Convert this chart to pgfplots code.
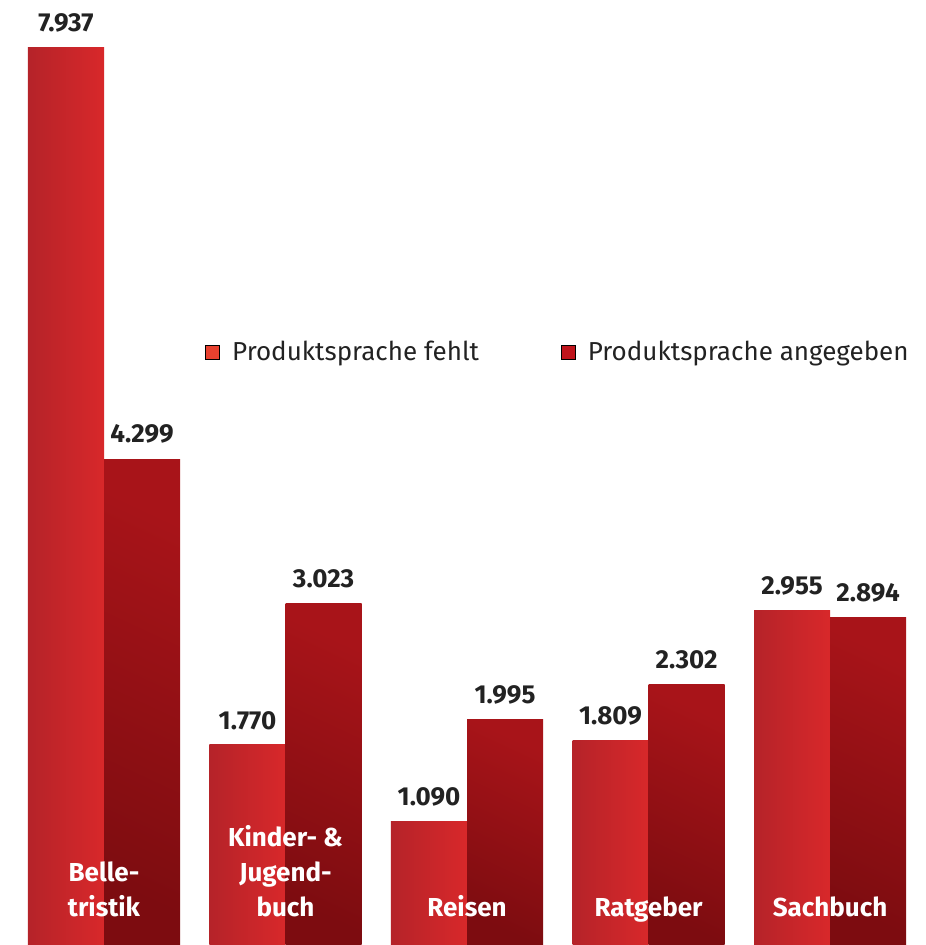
\documentclass[border=0pt]{standalone}
\usepackage{fontspec}
\setmainfont{Fira Sans}
\usepackage{pgfplots}
\pgfplotsset{compat=1.18}

\definecolor{legA}{HTML}{E8412F}
\definecolor{legB}{HTML}{C0141C}
\definecolor{barAl}{HTML}{B52329}
\definecolor{barAr}{HTML}{D8282A}
\definecolor{barBt}{HTML}{A81419}
\definecolor{barBb}{HTML}{7D0C10}
\definecolor{txt}{HTML}{222222}

\pgfplotsset{
    fehlt/.style={bar shift=-0.2095, draw=none, left color=barAl, right color=barAr, forget plot},
    angeg/.style={bar shift=0.2095, draw=none, top color=barBt, bottom color=barBb,
        shading angle=-25, forget plot},
}

\begin{document}
\begin{tikzpicture}
\begin{axis}[
    scale only axis,
    width=462.5pt,
    height=472.5pt,
    xmin=-0.573, xmax=4.523,
    ymin=0, ymax=8360,
    hide axis,
    clip=false,
    ybar,
    bar width=0.419,
    nodes near coords,
    /pgf/number format/assume math mode=true,
    /pgf/number format/1000 sep={.},
    every node near coord/.append style={font=\bfseries\fontsize{13}{15}\selectfont,
        text=txt, inner sep=0pt, yshift=7.5pt},
    legend columns=2,
    legend image code/.code={\fill[#1] (0pt,-3.5pt) rectangle (7pt,3.5pt);},
    legend style={draw=none, fill=none, inner sep=0pt,
        at={(rel axis cs:0.2216,0.627)}, anchor=west,
        font=\fontsize{13}{15}\selectfont, text=txt,
        nodes={inner sep=0pt},
        /tikz/every odd column/.append style={column sep=6pt},
        /tikz/every even column/.append style={column sep=41pt}},
]
\addlegendimage{fill=legA}
\addlegendentry{Produktsprache fehlt}
\addlegendimage{fill=legB}
\addlegendentry{Produktsprache angegeben}

% Produktsprache fehlt
\addplot[fehlt] coordinates {(0,7937)};
\addplot[fehlt] coordinates {(1,1770)};
\addplot[fehlt] coordinates {(2,1090)};
\addplot[fehlt] coordinates {(3,1809)};
\addplot[fehlt] coordinates {(4,2955)};
% Produktsprache angegeben
\addplot[angeg] coordinates {(0,4299)};
\addplot[angeg] coordinates {(1,3023)};
\addplot[angeg] coordinates {(2,1995)};
\addplot[angeg] coordinates {(3,2302)};
\addplot[angeg] coordinates {(4,2894)};

\path (rel axis cs:0,0) rectangle (rel axis cs:1,1);

\begin{scope}[every node/.style={font=\bfseries\fontsize{13}{17.5}\selectfont,
    text=white, align=center, anchor=south, inner sep=0pt, text depth=0pt, yshift=14pt}]
\node at (axis cs:0,0) {Belle-\\tristik};
\node at (axis cs:1,0) {Kinder- \&\\Jugend-\\buch};
\node at (axis cs:2,0) {Reisen};
\node at (axis cs:3,0) {Ratgeber};
\node at (axis cs:4,0) {Sachbuch};
\end{scope}
\end{axis}
\end{tikzpicture}
\end{document}
